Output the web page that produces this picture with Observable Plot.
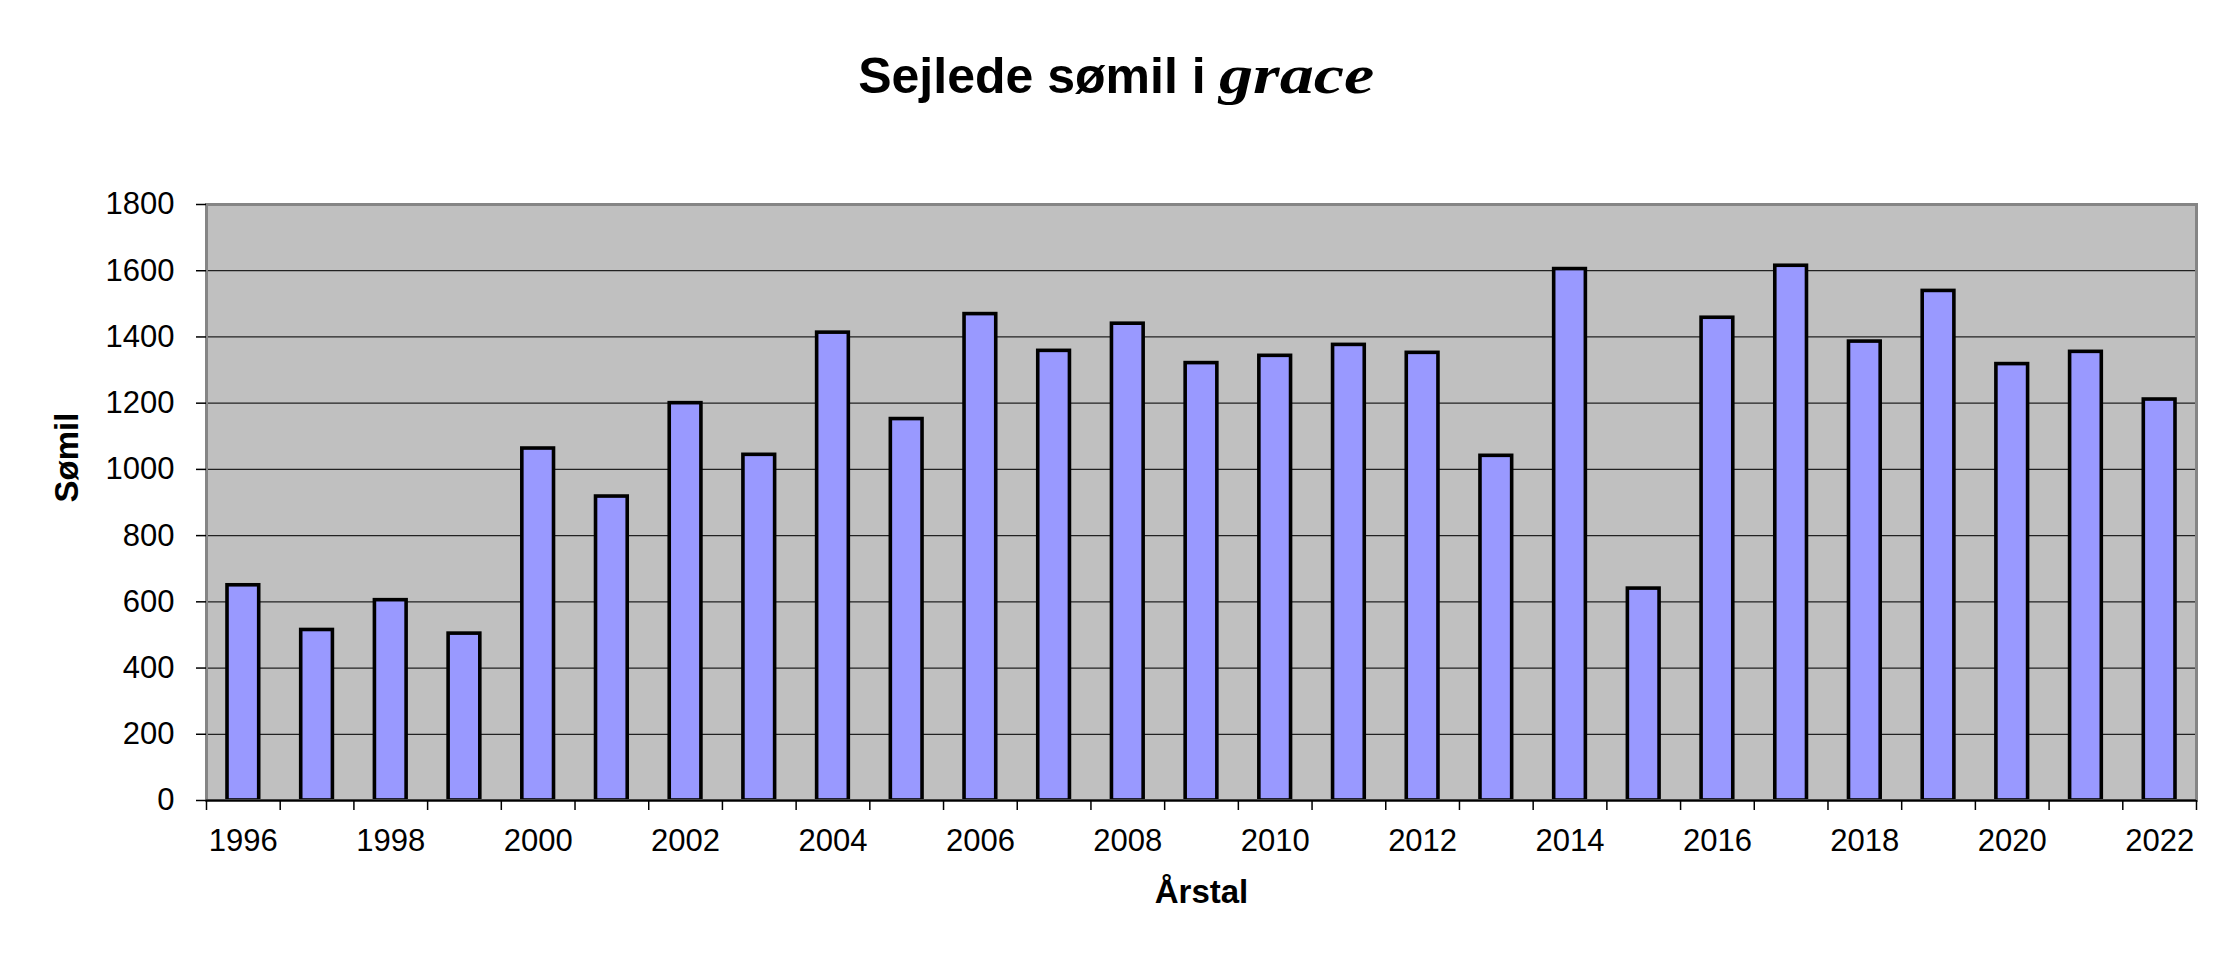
<!DOCTYPE html>
<html><head><meta charset="utf-8">
<script src="https://cdn.jsdelivr.net/npm/d3@7"></script>
<script src="https://cdn.jsdelivr.net/npm/@observablehq/plot@0.6"></script>
<style>
html,body{margin:0;padding:0;background:#fff;}
#wrap{width:2226px;height:971px;position:relative;overflow:hidden;}
#title{position:absolute;left:0;top:0;width:2226px;height:130px;}
#title .inner{position:absolute;left:0;width:2226px;top:75px;text-align:center;line-height:0;white-space:nowrap;}
#title .a{font-family:"Liberation Sans",Arial,sans-serif;font-weight:bold;font-size:50px;}
#title .g{font-family:"Liberation Serif",serif;font-style:italic;font-weight:bold;font-size:55px;display:inline-block;transform:scaleX(1.24);transform-origin:left;margin-left:13px;margin-right:24px;}
#chart{position:absolute;left:0;top:130px;}
</style></head><body>
<div id="wrap">
<div id="title"><div class="inner"><span class="a">Sejlede sømil i</span><span class="g">grace</span></div></div>
<div id="chart"></div>
</div>
<script>
const years = [1996,1997,1998,1999,2000,2001,2002,2003,2004,2005,2006,2007,2008,2009,2010,2011,2012,2013,2014,2015,2016,2017,2018,2019,2020,2021,2022];
const values = [650,515,605,504,1063,918,1200,1044,1413,1152,1469,1358,1440,1321,1343,1376,1352,1041,1605,640,1458,1615,1386,1539,1318,1355,1211];
const yTicks = [0,200,400,600,800,1000,1200,1400,1600,1800];
const xLabelYears = [1996,1998,2000,2002,2004,2006,2008,2010,2012,2014,2016,2018,2020,2022];
const yLabel = "Sømil";
const xLabel = "Årstal";

const data = years.map((year, i) => ({year, value: values[i]}));
const boundaries = [...years.map(y => y - 0.5), years[years.length - 1] + 0.5];
const half = 0.215;
const font = "'Liberation Sans', Arial, sans-serif";

const chart = Plot.plot({
  width: 2226, height: 841,
  marginTop: 74, marginBottom: 171, marginLeft: 206, marginRight: 30,
  style: {fontFamily: font, fontSize: "31px", color: "#000", background: "transparent", overflow: "visible"},
  x: {domain: [boundaries[0], boundaries[boundaries.length - 1]]},
  y: {domain: [0, 1800]},
  marks: [
    Plot.frame({fill: "#c0c0c0", stroke: "none"}),
    Plot.gridY(yTicks, {stroke: "#222", strokeOpacity: 1, strokeWidth: 1.2}),
    Plot.rectY(data, {x1: d => d.year - half, x2: d => d.year + half, y: "value", fill: "#9999ff", stroke: "#000", strokeWidth: 3.6}),
    Plot.frame({stroke: "#858585", strokeWidth: 3}),
    Plot.ruleY([0], {stroke: "#000", strokeWidth: 2}),
    Plot.axisY(yTicks, {tickSize: 10, tickPadding: 22, tickFormat: d => String(d), label: null, stroke: "#000", strokeWidth: 1.5, fontSize: 31}),
    Plot.axisX(boundaries, {tickSize: 10, tickFormat: () => "", label: null, stroke: "#000", strokeWidth: 1.5}),
    Plot.axisX(xLabelYears, {tickSize: 0, tickPadding: 28, tickFormat: d => String(d), label: null, fontSize: 31}),
    Plot.text([yLabel], {frameAnchor: "left", rotate: -90, dx: -139, fontWeight: "bold", fontSize: 33, fill: "#000"}),
    Plot.text([xLabel], {frameAnchor: "bottom", dy: 102, fontWeight: "bold", fontSize: 33, fill: "#000"})
  ]
});
document.getElementById("chart").appendChild(chart);
</script>
</body></html>
